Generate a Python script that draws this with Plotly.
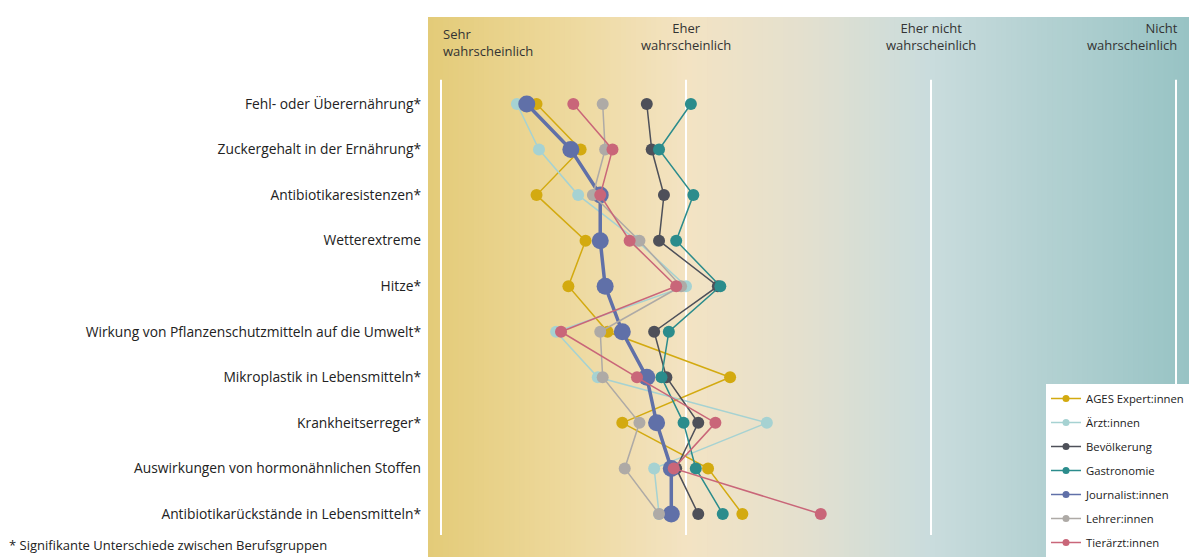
import plotly.graph_objects as go

categories = [
    "Fehl- oder Überernährung*",
    "Zuckergehalt in der Ernährung*",
    "Antibiotikaresistenzen*",
    "Wetterextreme",
    "Hitze*",
    "Wirkung von Pflanzenschutzmitteln auf die Umwelt*",
    "Mikroplastik in Lebensmitteln*",
    "Krankheitserreger*",
    "Auswirkungen von hormonähnlichen Stoffen",
    "Antibiotikarückstände in Lebensmitteln*",
]

scale_labels = ["Sehr<br>wahrscheinlich", "Eher<br>wahrscheinlich",
                "Eher nicht<br>wahrscheinlich", "Nicht<br>wahrscheinlich"]

ages = [1.39, 1.57, 1.39, 1.59, 1.52, 1.68, 2.18, 1.74, 2.09, 2.23]
aerzt = [1.31, 1.40, 1.56, 1.80, 2.00, 1.47, 1.64, 2.33, 1.87, 1.89]
bevoelkerung = [1.84, 1.86, 1.91, 1.89, 2.13, 1.87, 1.92, 2.05, 1.96, 2.05]
gastronomie = [2.02, 1.89, 2.03, 1.96, 2.14, 1.93, 1.90, 1.99, 2.04, 2.15]
journalist = [1.35, 1.53, 1.65, 1.65, 1.67, 1.74, 1.84, 1.88, 1.94, 1.94]
lehrer = [1.66, 1.67, 1.62, 1.81, 1.98, 1.65, 1.66, 1.81, 1.75, 1.89]
tieraerzt = [1.54, 1.70, 1.65, 1.77, 1.96, 1.49, 1.80, 2.12, 1.95, 2.55]

series = [
    ("AGES Expert:innen", ages, "#D3AA10"),
    ("Ärzt:innen", aerzt, "#A6D2D2"),
    ("Bevölkerung", bevoelkerung, "#4E5059"),
    ("Gastronomie", gastronomie, "#2B8C8C"),
    ("Journalist:innen", journalist, "#6070A8"),
    ("Lehrer:innen", lehrer, "#AEAAA6"),
    ("Tierärzt:innen", tieraerzt, "#C96679"),
]

rows = list(range(1, len(categories) + 1))
FONT = "Open Sans, Lato, sans-serif"

fig = go.Figure()
for name, vals, col in series:
    big = name.startswith("Journalist")
    fig.add_trace(go.Scatter(
        x=vals, y=rows, mode="lines+markers", name=name,
        legendgroup=name, showlegend=False,
        line=dict(color=col, width=3.5 if big else 1.5),
        marker=dict(color=col, size=17 if big else 12),
    ))
# legend entries with small uniform symbols
for name, vals, col in series:
    fig.add_trace(go.Scatter(
        x=[None], y=[None], mode="lines+markers", name=name,
        legendgroup=name, showlegend=True,
        line=dict(color=col, width=1.5),
        marker=dict(color=col, size=7),
    ))

# background gradient (style only)
X0, X1 = 0.947, 4.053
stops = [(0.0, (227, 203, 120)), (0.17, (237, 216, 154)), (0.34, (243, 227, 195)),
         (0.49, (228, 224, 206)), (0.66, (201, 220, 221)), (1.0, (152, 195, 196))]

def interp(t):
    for (t0, c0), (t1, c1) in zip(stops[:-1], stops[1:]):
        if t0 <= t <= t1:
            f = (t - t0) / (t1 - t0)
            return tuple(round(a + (b - a) * f) for a, b in zip(c0, c1))
    return stops[-1][1]

shapes = []
N = 150
for i in range(N):
    t0 = i / N
    t1 = (i + 1) / N
    c = interp((t0 + t1) / 2)
    shapes.append(dict(type="rect", xref="paper", yref="paper",
                       x0=t0, x1=t1 + 0.002, y0=0, y1=1,
                       fillcolor="rgb(%d,%d,%d)" % c, line=dict(width=0),
                       layer="below"))
for v in [1, 2, 3, 4]:
    shapes.append(dict(type="line", xref="x", yref="y", x0=v, x1=v,
                       y0=0.47, y1=10.46, line=dict(color="white", width=2),
                       layer="below"))

annotations = []
aligns = ["left", "center", "center", "right"]
xanch = ["left", "center", "center", "right"]
ytops = [-0.78, -0.90, -0.90, -0.90]
for i, lab in enumerate(scale_labels):
    xv = i + 1
    if i == 3:
        xv = 4.015
    annotations.append(dict(x=xv, y=ytops[i], xref="x", yref="y", text=lab,
                            showarrow=False, xanchor=xanch[i], yanchor="top",
                            align=aligns[i],
                            font=dict(family=FONT, size=13, color="#333333")))
annotations.append(dict(x=-0.553, y=0.022, xref="paper", yref="paper",
                        text="* Signifikante Unterschiede zwischen Berufsgruppen",
                        showarrow=False, xanchor="left", yanchor="middle",
                        font=dict(family=FONT, size=13, color="#222222")))

fig.update_layout(
    width=1189, height=557,
    margin=dict(l=428, r=0, t=17, b=0, autoexpand=False),
    paper_bgcolor="white", plot_bgcolor="rgba(0,0,0,0)",
    font=dict(family=FONT, color="#222222"),
    shapes=shapes, annotations=annotations,
    showlegend=True,
    legend=dict(x=1, y=0, xanchor="right", yanchor="bottom",
                bgcolor="white", borderwidth=0,
                font=dict(family=FONT, size=11.3, color="#222222"),
                tracegroupgap=5, itemwidth=30),
    xaxis=dict(range=[X0, X1], showgrid=False, zeroline=False,
               showticklabels=False, ticks="", fixedrange=True),
    yaxis=dict(range=[10.945, -0.910], showgrid=False, zeroline=False,
               tickvals=rows, ticktext=categories, ticks="",
               tickfont=dict(family=FONT, size=13.8, color="#222222"),
               ticklabelstandoff=6),
)

fig.write_html(
    "out.html",
    config={"displayModeBar": False},
    post_script="document.body.style.margin='0px';document.body.style.overflow='hidden';",
)
